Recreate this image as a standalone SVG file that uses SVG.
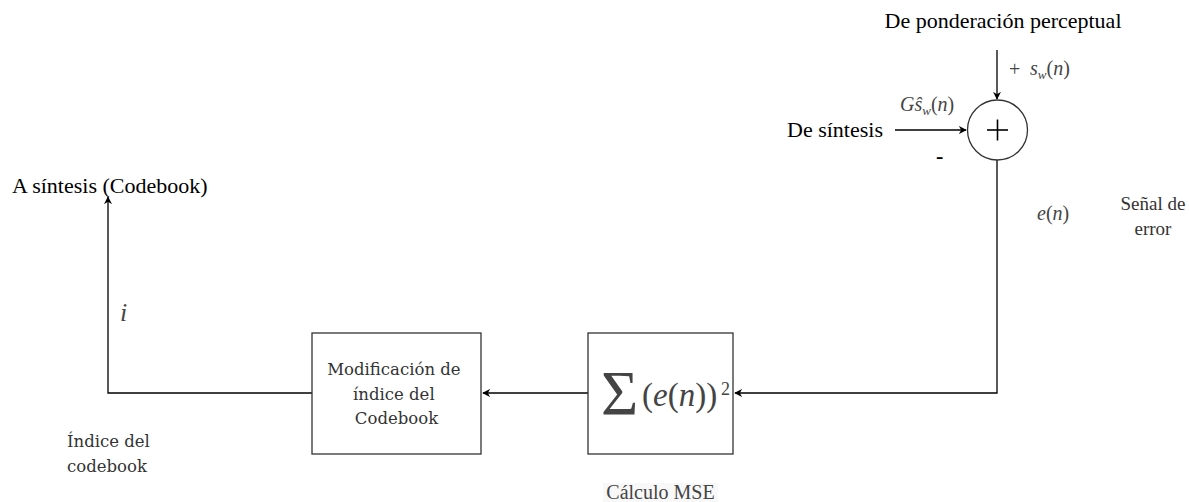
<svg xmlns="http://www.w3.org/2000/svg" width="1189" height="502" viewBox="0 0 1189 502">
  <style>
    .lbl { font-family: "Liberation Serif", serif; font-size: 22px; fill: #000; }
    .box-txt { font-family: "DejaVu Serif", serif; font-size: 16.5px; fill: #333; }
    .note { font-family: "Liberation Serif", serif; font-size: 19px; fill: #333; }
    .math { font-family: "Liberation Serif", serif; font-style: italic; fill: #444; }
    .mathr { font-family: "Liberation Serif", serif; font-style: normal; fill: #444; }
    .node { fill: #fff; stroke: #333; stroke-width: 1.3; }
    .wire { fill: none; stroke: #000; stroke-width: 1.3; }
  </style>
  <defs>
    <marker id="arrow" viewBox="0 0 10 10" refX="9" refY="5" markerWidth="8" markerHeight="8" markerUnits="userSpaceOnUse" orient="auto">
      <path d="M0,0 L10,5 L0,10 L3,5 Z" fill="#000"/>
    </marker>
  </defs>

  <rect width="1189" height="502" fill="#fff"/>

  <!-- connectors -->
  <g id="connectors">
    <line class="wire" x1="997" y1="50" x2="997" y2="99" marker-end="url(#arrow)"/>
    <line class="wire" x1="895" y1="130" x2="966" y2="130" marker-end="url(#arrow)"/>
    <polyline class="wire" points="997,160 997,393 735,393" marker-end="url(#arrow)"/>
    <line class="wire" x1="588" y1="393" x2="483" y2="393" marker-end="url(#arrow)"/>
    <polyline class="wire" points="312,393 108,393 108,197" marker-end="url(#arrow)"/>
  </g>

  <!-- summing junction -->
  <g id="sum">
    <circle class="node" cx="997.5" cy="130" r="30"/>
    <line x1="987" y1="130" x2="1008" y2="130" stroke="#000" stroke-width="1.6"/>
    <line x1="997.5" y1="119.5" x2="997.5" y2="140.5" stroke="#000" stroke-width="1.6"/>
  </g>

  <!-- MSE block -->
  <g id="mse">
    <rect class="node" x="588" y="333" width="145" height="121"/>
    <text class="mathr" x="601" y="415" font-size="64">Σ</text>
    <text class="mathr" x="642" y="406" font-size="33">(<tspan class="math">e</tspan>(<tspan class="math">n</tspan>))</text>
    <text class="mathr" x="721" y="395" font-size="18">2</text>
  </g>

  <!-- codebook index block -->
  <g id="codebook-index">
    <rect class="node" x="312" y="333" width="169" height="121"/>
    <text class="box-txt" text-anchor="middle">
      <tspan x="396.5" y="375">Modificación de</tspan>
      <tspan x="396.5" y="400">índice del</tspan>
      <tspan x="396.5" y="424">Codebook</tspan>
    </text>
  </g>

  <!-- labels -->
  <g id="labels">
    <text class="lbl" x="1003" y="28" text-anchor="middle">De ponderación perceptual</text>
    <text class="mathr" x="1009" y="76" font-size="20">+</text>
    <text class="math" x="1030" y="75" font-size="20">s<tspan font-size="13" dy="4">w</tspan><tspan class="mathr" dy="-4">(</tspan>n<tspan class="mathr">)</tspan></text>
    <text class="math" x="900" y="111" font-size="20">G<tspan>ŝ</tspan><tspan font-size="13" dy="4">w</tspan><tspan class="mathr" dy="-4">(</tspan>n<tspan class="mathr">)</tspan></text>
    <text class="lbl" x="787" y="137">De síntesis</text>
    <text class="lbl" x="936" y="163" font-weight="bold">-</text>
    <text class="math" x="1037" y="220" font-size="20">e<tspan class="mathr">(</tspan>n<tspan class="mathr">)</tspan></text>
    <text class="note" text-anchor="middle"><tspan x="1153" y="210">Señal de</tspan><tspan x="1153" y="235">error</tspan></text>
    <text class="lbl" x="12" y="193" font-size="23">A síntesis (Codebook)</text>
    <text class="math" x="120" y="321" font-size="26">i</text>
    <text class="box-txt"><tspan x="67" y="447">Índice del</tspan><tspan x="67" y="472">codebook</tspan></text>
    <rect x="603" y="483" width="115" height="19" fill="#f8f8f8"/>
    <text class="mathr" x="660.5" y="499" font-size="20" text-anchor="middle" fill="#333">Cálculo MSE</text>
  </g>
</svg>
